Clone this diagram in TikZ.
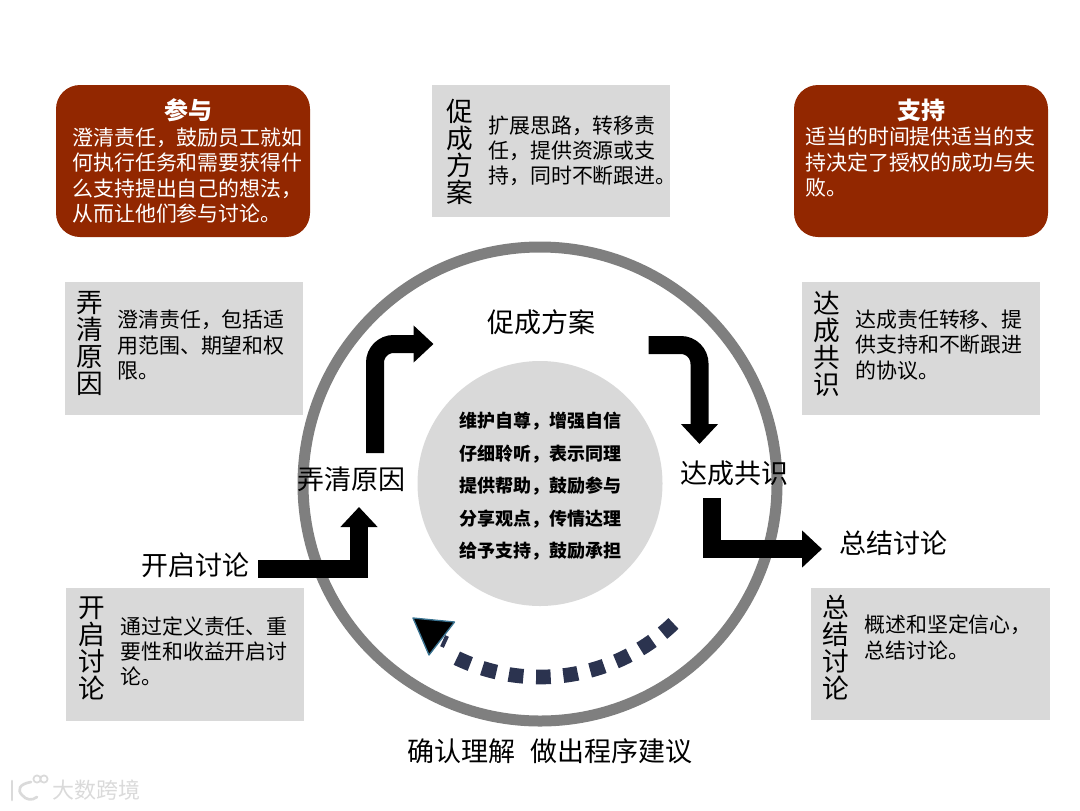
\documentclass[tikz,border=0pt]{standalone}
\usepackage{fontspec}
\setmainfont{Noto Sans CJK SC}
\usetikzlibrary{arrows.meta}
\definecolor{boxred}{HTML}{922700}
\definecolor{boxgray}{HTML}{D9D9D9}
\definecolor{ringgray}{HTML}{7F7F7F}
\definecolor{dashnavy}{HTML}{2B334F}
\definecolor{triedge}{HTML}{3A7391}
\definecolor{wmgray}{HTML}{DADADA}
\tikzset{
  x=0.75pt,y=-0.75pt,
  redbox/.style={fill=boxred,rounded corners=18pt},
  graybox/.style={fill=boxgray},
  bodytext/.style={inner sep=0pt,anchor=west,align=left,font=\fontsize{15.7}{18.9}\selectfont},
  redtext/.style={bodytext,text=white},
  redtitle/.style={inner sep=0pt,text=white,font=\fontsize{18}{20}\selectfont\bfseries},
  sidetitle/.style={inner sep=0pt,align=center,font=\fontsize{20}{20.25}\selectfont},
  steplabel/.style={inner sep=0pt,font=\fontsize{20.25}{24}\selectfont},
  coretext/.style={inner sep=0pt,align=center,font=\fontsize{13.5}{24.4}\selectfont\bfseries},
  blockarrow/.style={draw=black,line width=13.5pt,-{Triangle[length=15pt,width=27pt]}},
  loopdash/.style={draw=dashnavy,line width=11pt,dash pattern=on 11pt off 9.5pt},
}
\begin{document}
\begin{tikzpicture}
\useasboundingbox (0,0) rectangle (1080,810);
% top boxes
\path[redbox] (56,85) rectangle (310,237);
\path[redbox] (794,85) rectangle (1048,237);
\path[graybox] (432,85) rectangle (670,217);
\path[graybox] (65,282) rectangle (303,415);
\path[graybox] (802,282) rectangle (1040,415);
\path[graybox] (66,588) rectangle (304,721);
\path[graybox] (811,588) rectangle (1050,720);
% rings
\draw[ringgray,line width=8.25pt] (540,484) circle[radius=237];
\fill[boxgray] (540,483.5) circle[radius=122.5];
% box texts
\node[redtitle] (t1) at (188,110) {参与};
\node[redtext] (b1) at (72,175.5) {澄清责任，鼓励员工就如\\何执行任务和需要获得什\\么支持提出自己的想法，\\从而让他们参与讨论。};
\node[redtitle] (t2) at (921,110) {支持};
\node[redtext] (b2) at (805,162) {适当的时间提供适当的支\\持决定了授权的成功与失\\败。};
\node[sidetitle] (s1) at (460,151.5) {促\\成\\方\\案};
\node[bodytext] (g1) at (488,151) {扩展思路，转移责\\任，提供资源或支\\持，同时不断跟进。};
\node[sidetitle] (s2) at (90,343.5) {弄\\清\\原\\因};
\node[bodytext] (g2) at (117,345) {澄清责任，包括适\\用范围、期望和权\\限。};
\node[sidetitle] (s3) at (827,343.5) {达\\成\\共\\识};
\node[bodytext] (g3) at (855,345) {达成责任转移、提\\供支持和不断跟进\\的协议。};
\node[sidetitle] (s4) at (92,648.5) {开\\启\\讨\\论};
\node[bodytext] (g4) at (120,651) {通过定义责任、重\\要性和收益开启讨\\论。};
\node[sidetitle] (s5) at (836,647.5) {总\\结\\讨\\论};
\node[bodytext] (g5) at (864,637.5) {概述和坚定信心，\\总结讨论。};
% centre text
\node[coretext] (core) at (540,486.5) {维护自尊，增强自信\\仔细聆听，表示同理\\提供帮助，鼓励参与\\分享观点，传情达理\\给予支持，鼓励承担};
% step labels
\node[steplabel] (open) at (195,565) {开启讨论};
\node[steplabel] (clarify) at (351,479) {弄清原因};
\node[steplabel] (plan) at (541,322) {促成方案};
\node[steplabel] (agree) at (734,473) {达成共识};
\node[steplabel] (close) at (893,543) {总结讨论};
\node[steplabel] (confirm) at (550,751) {确认理解\hspace{0.52em}做出程序建议};
% block arrows
\draw[blockarrow] ([shift={(63,4)}]open.center) -| ([shift={(8,28)}]clarify.center);
\draw[blockarrow,rounded corners=14pt] ([shift={(24,-26)}]clarify.center) |- ([shift={(-107.5,22)}]plan.center);
\draw[blockarrow,rounded corners=14pt] ([shift={(107.6,23)}]plan.center) -| ([shift={(-34.5,-29)}]agree.center);
\draw[blockarrow] ([shift={(-22,25)}]agree.center) |- ([shift={(-71,6)}]close.center);
% dashed return arrow
\coordinate (loopstart) at (540+193*0.6915,484+193*0.7224);
\draw[loopdash] (loopstart) arc[start angle=46.25,end angle=118.5,radius=193];
\draw[dashnavy,line width=3pt] (442,647) -- (447,636);
\draw[fill=black,draw=triedge,line width=1pt,line join=round] (413,618) -- (454.5,622) -- (429,655) -- cycle;
% watermark
\node[inner sep=0pt,text=wmgray,font=\fontsize{16.5}{18}\selectfont] (wm) at (96,790) {大数跨境};
\draw[wmgray,line width=2pt,line cap=round] (12,781) -- (12,800);
\draw[wmgray,line width=2pt,line cap=round] (31,782) .. controls (19,784) and (17,790) .. (22,795) .. controls (26,800) and (32,801) .. (37,797);
\draw[wmgray,line width=1.3pt] (37,779) circle[radius=3.6] (44,779) circle[radius=3.6];
\end{tikzpicture}
\end{document}
